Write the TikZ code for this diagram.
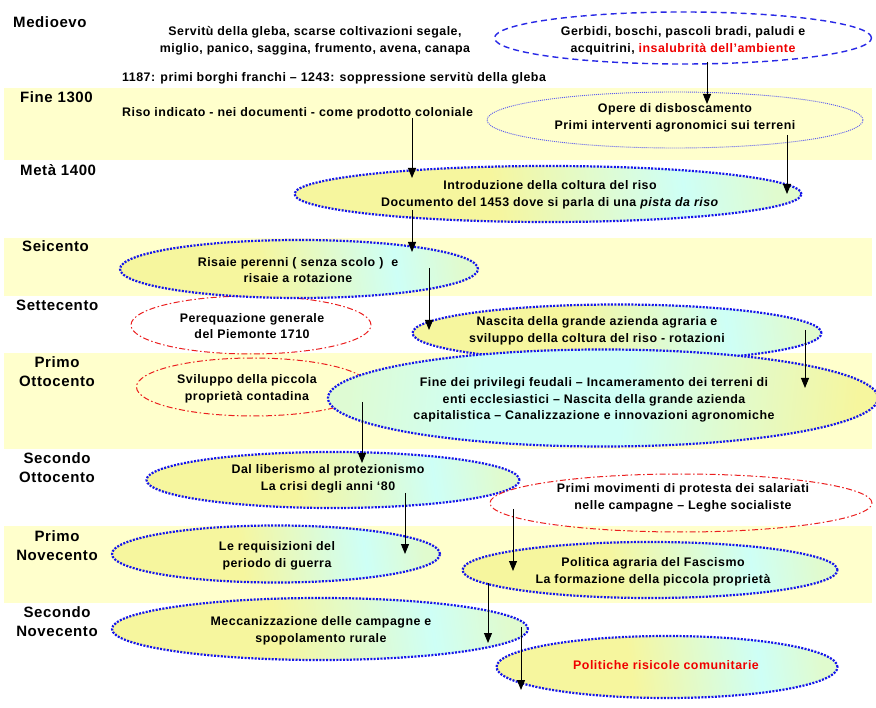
\documentclass[tikz,border=0pt]{standalone}
\usepackage{fontspec}
\setmainfont{Liberation Sans}[LetterSpace=4]
\usetikzlibrary{shapes.geometric,arrows.meta}
\definecolor{bandc}{RGB}{255,255,204}
\definecolor{ylw}{RGB}{246,246,158}
\definecolor{cyn}{RGB}{206,255,246}
\definecolor{dotblue}{RGB}{20,20,235}
\definecolor{dashblue}{RGB}{40,40,230}
\definecolor{thinblue}{RGB}{90,90,240}
\definecolor{redt}{RGB}{240,0,0}
\definecolor{redl}{RGB}{235,30,30}
\pgfdeclarehorizontalshading{ellgrad}{100bp}{color(0bp)=(ylw); color(25bp)=(ylw); color(44bp)=(ylw); color(65bp)=(cyn); color(75bp)=(ylw!45!cyn); color(100bp)=(ylw!45!cyn)}
\pgfdeclarehorizontalshading{ellgradb}{100bp}{color(0bp)=(cyn!60!ylw); color(25bp)=(cyn!60!ylw); color(38bp)=(cyn); color(52bp)=(cyn); color(75bp)=(ylw); color(100bp)=(ylw)}
\tikzset{
  lab/.style={font=\fontsize{15}{19}\selectfont\bfseries, align=center, inner sep=0pt},
  txt/.style={font=\fontsize{12.4}{16.5}\selectfont\bfseries, align=center, inner sep=0pt},
  bdot/.style={ellipse, draw=dotblue, line width=2.2pt, dash pattern=on 2pt off 1.4pt, shade, shading=ellgrad, shading angle=8, inner sep=0pt},
  rdash/.style={ellipse, draw=redl, line width=1pt, dash pattern=on 6pt off 2.5pt on 1.5pt off 2.5pt, inner sep=0pt},
  bdash/.style={ellipse, draw=dashblue, line width=1.4pt, dash pattern=on 6pt off 4pt, inner sep=0pt},
  bthin/.style={ellipse, draw=thinblue, line width=0.9pt, dash pattern=on 1pt off 1pt, inner sep=0pt},
  arr/.style={-{Triangle[length=10pt,width=8pt]}, line width=0.9pt, black}
}
\begin{document}
\begin{tikzpicture}[x=1pt,y=-1pt]
\useasboundingbox (0,0) rectangle (876,708);
\fill[white] (0,0) rectangle (876,708);
% bands
\fill[bandc] (4,88) rectangle (872,160);
\fill[bandc] (4,238) rectangle (872,296);
\fill[bandc] (4,353) rectangle (872,449);
\fill[bandc] (4,526) rectangle (872,603);
% period labels
\node[lab, anchor=west] (lMed) at (13,22) {Medioevo};
\node[lab, anchor=west] (lFine) at (20,97) {Fine 1300};
\node[lab, anchor=west] (lMeta) at (20,170) {Metà 1400};
\node[lab, anchor=west] (lSei) at (22,246) {Seicento};
\node[lab, anchor=west] (lSett) at (16,305) {Settecento};
\node[lab] (lPO) at (57,372) {Primo\\Ottocento};
\node[lab] (lSO) at (57,468) {Secondo\\Ottocento};
\node[lab] (lPN) at (57,546) {Primo\\Novecento};
\node[lab] (lSN) at (57,622) {Secondo\\Novecento};
% top free texts
\node[txt] (serv) at (315,41) {Servitù della gleba, scarse coltivazioni segale,\\miglio, panico, saggina, frumento, avena, canapa};
\node[txt, anchor=west] (borghi) at (122,78) {1187: primi borghi franchi – 1243: soppressione servitù della gleba};
\node[txt, anchor=west] (riso) at (122,113) {Riso indicato - nei documenti - come prodotto coloniale};
% ellipses
\node[bdash, minimum width=377pt, minimum height=52pt] (gerb) at (683,38) {};
\node[txt] (gerbT) at (683,41) {Gerbidi, boschi, pascoli bradi, paludi e\\acquitrini, \textcolor{redt}{insalubrità dell’ambiente}};
\node[bthin, minimum width=376pt, minimum height=56pt] (opere) at (675,120) {};
\node[txt] (opereT) at (675,118) {Opere di disboscamento\\Primi interventi agronomici sui terreni};
\node[rdash, minimum width=240pt, minimum height=58pt] (pereq) at (251,325) {};
\node[txt] (pereqT) at (252,326) {Perequazione generale\\del Piemonte 1710};
\node[rdash, minimum width=233pt, minimum height=58pt] (svil) at (253,387) {};
\node[txt] (svilT) at (247,389) {Sviluppo della piccola\\proprietà contadina};
\node[bdot, minimum width=507pt, minimum height=56pt] (intro) at (548,194) {};
\node[txt] (introT) at (550,195) {Introduzione della coltura del riso\\Documento del 1453 dove si parla di una \textit{pista da riso}};
\node[bdot, minimum width=358pt, minimum height=58pt] (risaie) at (299,269) {};
\node[txt] (risaieT) at (298,270) {Risaie perenni ( senza scolo ) \ e\\risaie a rotazione};
\node[bdot, minimum width=409pt, minimum height=57pt] (nascita) at (617,333) {};
\node[txt] (nascitaT) at (597,331) {Nascita della grande azienda agraria e\\sviluppo della coltura del riso - rotazioni};
\node[bdot, shading=ellgradb, shading angle=-6, minimum width=550pt, minimum height=97pt] (fine) at (603,398) {};
\node[txt] (fineT) at (594,400) {Fine dei privilegi feudali – Incameramento dei terreni di\\enti ecclesiastici – Nascita della grande azienda\\capitalistica – Canalizzazione e innovazioni agronomiche};
\node[bdot, minimum width=373pt, minimum height=56pt] (dal) at (333,480) {};
\node[txt] (dalT) at (328,479) {Dal liberismo al protezionismo\\La crisi degli anni ‘80};
\node[rdash, minimum width=382pt, minimum height=58pt] (primi) at (681,503) {};
\node[txt] (primiT) at (683,498) {Primi movimenti di protesta dei salariati\\nelle campagne – Leghe socialiste};
\node[bdot, minimum width=328pt, minimum height=57pt] (requ) at (276,554) {};
\node[txt] (requT) at (277,556) {Le requisizioni del\\periodo di guerra};
\node[bdot, minimum width=375pt, minimum height=56pt] (polit) at (650,570) {};
\node[txt] (politT) at (653,572) {Politica agraria del Fascismo\\La formazione della piccola proprietà};
\node[bdot, minimum width=416pt, minimum height=62pt] (mecc) at (320,629) {};
\node[txt] (meccT) at (321,631) {Meccanizzazione delle campagne e\\spopolamento rurale};
\node[bdot, minimum width=341pt, minimum height=62pt] (pcom) at (667,667) {};
\node[txt, text=redt] (pcomT) at (666,665) {Politiche risicole comunitarie};
% arrow end points
\coordinate (a1s) at (707,62);  \coordinate (a1e) at (707,104);
\coordinate (a2s) at (412,118); \coordinate (a2e) at (412,178);
\coordinate (a3s) at (787,135); \coordinate (a3e) at (787,194);
\coordinate (a4s) at (412,210); \coordinate (a4e) at (412,252);
\coordinate (a5s) at (429,268); \coordinate (a5e) at (429,330);
\coordinate (a6s) at (805,330); \coordinate (a6e) at (805,388);
\coordinate (a7s) at (362,402); \coordinate (a7e) at (362,463);
\coordinate (a8s) at (405,493); \coordinate (a8e) at (405,554);
\coordinate (a9s) at (513,509); \coordinate (a9e) at (513,571);
\coordinate (a10s) at (488,583); \coordinate (a10e) at (488,643);
\coordinate (a11s) at (521,627); \coordinate (a11e) at (521,690);
\foreach \i in {1,...,11} {\draw[arr] (a\i s) -- (a\i e);}
\end{tikzpicture}
\end{document}
